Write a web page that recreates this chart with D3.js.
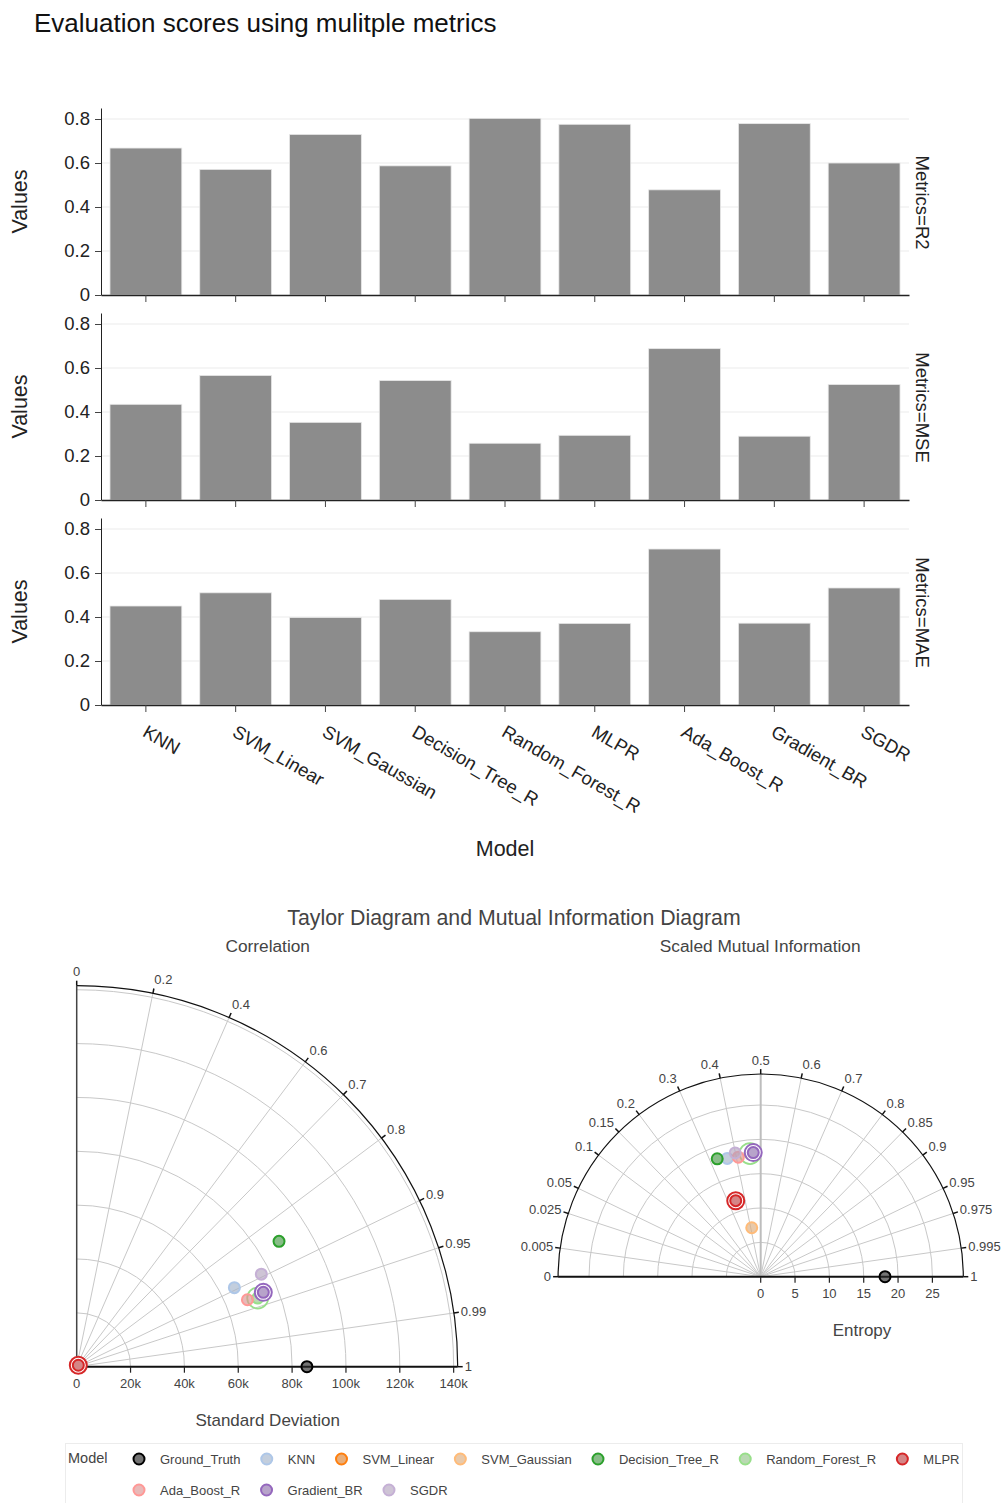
<!DOCTYPE html>
<html>
<head>
<meta charset="utf-8">
<script src="https://cdn.jsdelivr.net/npm/d3@7"></script>
<style>
  body { margin: 0; background: #fff; }
  svg text { font-family: "Liberation Sans", Arial, sans-serif; }
</style>
</head>
<body>
<svg id="chart" width="1002" height="1503"></svg>
<script>
// ---------- data ----------
const models = ["KNN", "SVM_Linear", "SVM_Gaussian", "Decision_Tree_R", "Random_Forest_R",
                "MLPR", "Ada_Boost_R", "Gradient_BR", "SGDR"];
const r2Scores  = [0.668, 0.571, 0.730, 0.587, 0.803, 0.776, 0.478, 0.779, 0.600];
const mseScores = [0.435, 0.566, 0.353, 0.543, 0.258, 0.294, 0.688, 0.290, 0.525];
const maeScores = [0.450, 0.510, 0.398, 0.480, 0.333, 0.371, 0.709, 0.372, 0.532];
const valueTicks = [0, 0.2, 0.4, 0.6, 0.8];
const valueTickLabels = ["0", "0.2", "0.4", "0.6", "0.8"];

// Taylor / mutual-information points (Ground_Truth first)
const diagramModels = ["Ground_Truth", ...models];
const stdDevs      = [85500, 65500, 800, 1000, 88400, 71900, 800, 68100, 74600, 76700];
const correlations = [1, 0.894, 0.75, 0.80, 0.850, 0.935, 0.75, 0.931, 0.929, 0.894];
const entropies    = [18.1, 17.9, 11.65, 7.25, 18.3, 18.0, 11.65, 17.7, 18.1, 18.4];
const scaledMI     = [1, 0.364, 0.344, 0.41, 0.327, 0.457, 0.344, 0.408, 0.47, 0.399];

const corrTicks = [0, 0.2, 0.4, 0.6, 0.7, 0.8, 0.9, 0.95, 0.99, 1];
const corrTickLabels = ["0", "0.2", "0.4", "0.6", "0.7", "0.8", "0.9", "0.95", "0.99", "1"];
const stdTicks = [0, 20000, 40000, 60000, 80000, 100000, 120000, 140000];
const stdTickLabels = ["0", "20k", "40k", "60k", "80k", "100k", "120k", "140k"];
const smiTicks = [0, 0.005, 0.025, 0.05, 0.1, 0.15, 0.2, 0.3, 0.4, 0.5, 0.6, 0.7, 0.8, 0.85, 0.9, 0.95, 0.975, 0.995, 1];
const smiTickLabels = ["0", "0.005", "0.025", "0.05", "0.1", "0.15", "0.2", "0.3", "0.4", "0.5", "0.6", "0.7", "0.8", "0.85", "0.9", "0.95", "0.975", "0.995", "1"];
const entropyTicks = [0, 5, 10, 15, 20, 25];
const entropyTickLabels = ["0", "5", "10", "15", "20", "25"];

// ---------- styles ----------
const modelColors = ["#000000", "#aec7e8", "#ff7f0e", "#ffbb78", "#2ca02c", "#98df8a",
                     "#d62728", "#ff9896", "#9467bd", "#c5b0d5"];
const extraRing = { "Random_Forest_R": 10.5, "Gradient_BR": 8.5, "MLPR": 8.5 };
const barFill = "#8c8c8c";
const gridGray = "#c8c8c8";
const textGray = "#444";
const tickFont = 18.5;

const svg = d3.select("#chart");
const markerFill = c => d3.interpolateRgb(c, "#888888")(0.3);

// ---------- faceted bar chart ----------
svg.append("text").attr("x", 34).attr("y", 32).attr("font-size", 26).attr("fill", "#111")
  .text("Evaluation scores using mulitple metrics");

const facets = [
  { label: "Metrics=R2",  values: r2Scores },
  { label: "Metrics=MSE", values: mseScores },
  { label: "Metrics=MAE", values: maeScores }
];
const plotLeft = 101, plotRight = 909, panelH = 187;
const panelTops = [108, 313, 518];
const x = d3.scaleBand().domain(models).range([plotLeft, plotRight]).paddingInner(0.2).paddingOuter(0.1);

facets.forEach((f, i) => {
  const top = panelTops[i], bottom = top + panelH;
  const y = d3.scaleLinear().domain([0, 0.85]).range([bottom, top]);
  const g = svg.append("g");

  g.selectAll("line.grid").data(valueTicks.slice(1)).join("line")
    .attr("x1", plotLeft).attr("x2", plotRight)
    .attr("y1", d => y(d)).attr("y2", d => y(d))
    .attr("stroke", "#ebebeb").attr("stroke-width", 1);

  g.selectAll("rect").data(models).join("rect")
    .attr("x", d => x(d)).attr("width", x.bandwidth())
    .attr("y", (d, j) => y(f.values[j]))
    .attr("height", (d, j) => bottom - y(f.values[j]))
    .attr("fill", barFill).attr("stroke", "#e8e8e8").attr("stroke-width", 0.8);

  const yAxis = g.append("g").attr("transform", `translate(${plotLeft},0)`)
    .call(d3.axisLeft(y).tickValues(valueTicks).tickFormat((d, k) => valueTickLabels[k])
      .tickSize(6).tickSizeOuter(0).tickPadding(5));
  yAxis.select(".domain").attr("stroke", "#222");
  yAxis.selectAll(".tick line").attr("stroke", "#444");
  yAxis.selectAll("text").attr("font-size", tickFont).attr("fill", "#222").attr("font-family", "Liberation Sans, Arial, sans-serif");

  const xAxis = g.append("g").attr("transform", `translate(0,${bottom})`)
    .call(d3.axisBottom(x).tickSize(7).tickSizeOuter(0).tickFormat(""));
  xAxis.select(".domain").attr("stroke", "#222").attr("stroke-width", 1.5);
  xAxis.selectAll(".tick line").attr("stroke", "#444");

  if (i === facets.length - 1) {
    g.selectAll("text.xlab").data(models).join("text")
      .attr("class", "xlab")
      .attr("transform", d => `translate(${x(d) + x.bandwidth() / 2 - 4.5},${bottom + 30.5}) rotate(30)`)
      .attr("font-size", tickFont).attr("fill", "#222")
      .text(d => d);
  }

  svg.append("text")
    .attr("transform", `translate(19,${(top + bottom) / 2}) rotate(-90)`)
    .attr("text-anchor", "middle").attr("dy", "0.35em")
    .attr("font-size", 21.5).attr("fill", "#222").text("Values");

  svg.append("text")
    .attr("transform", `translate(922,${(top + bottom) / 2 + 1}) rotate(90)`)
    .attr("text-anchor", "middle").attr("dy", "0.35em")
    .attr("font-size", tickFont).attr("fill", "#222").text(f.label);
});

svg.append("text").attr("x", (plotLeft + plotRight) / 2).attr("y", 855.5)
  .attr("text-anchor", "middle").attr("font-size", 21.5).attr("fill", "#222").text("Model");

// ---------- diagrams ----------
svg.append("text").attr("x", 514).attr("y", 924.5).attr("text-anchor", "middle")
  .attr("font-size", 21.3).attr("fill", textGray).text("Taylor Diagram and Mutual Information Diagram");

function angularLabels(g, ox, oy, R, angles, labels) {
  angles.forEach((a, k) => {
    const c = Math.cos(a), s = Math.sin(a);
    const px = ox + R * c, py = oy - R * s;
    g.append("line").attr("x1", px).attr("y1", py)
      .attr("x2", ox + (R + 5) * c).attr("y2", oy - (R + 5) * s)
      .attr("stroke", "#111").attr("stroke-width", 1.5);
    g.append("text")
      .attr("x", px + 7 * c).attr("y", py - 14 * s).attr("dy", "0.35em")
      .attr("text-anchor", Math.abs(c) < 0.1 ? "middle" : (c > 0 ? "start" : "end"))
      .attr("font-size", 13).attr("fill", textGray).text(labels[k]);
  });
}

function drawMarker(g, cx, cy, name, color) {
  if (extraRing[name]) {
    g.append("circle").attr("cx", cx).attr("cy", cy).attr("r", extraRing[name])
      .attr("fill", name === "Random_Forest_R" ? "none" : "#fff")
      .attr("stroke", color).attr("stroke-width", name === "Random_Forest_R" ? 1.8 : 2);
  }
  g.append("circle").attr("cx", cx).attr("cy", cy).attr("r", 5.5)
    .attr("fill", markerFill(color)).attr("fill-opacity", 0.65)
    .attr("stroke", color).attr("stroke-width", 2);
}

// Taylor diagram
{
  const ox = 76.7, oy = 1366.7;
  const rScale = d3.scaleLinear().domain([0, 141500]).range([0, 381]);
  const R = rScale(141500);
  const g = svg.append("g");

  g.append("text").attr("x", ox + R / 2 + 0.5).attr("y", 952).attr("text-anchor", "middle")
    .attr("font-size", 17.3).attr("fill", textGray).text("Correlation");

  stdTicks.slice(1).forEach(t => {
    const p = d3.path();
    p.moveTo(ox + rScale(t), oy);
    p.arc(ox, oy, rScale(t), 0, -Math.PI / 2, true);
    g.append("path").attr("d", p.toString()).attr("fill", "none").attr("stroke", gridGray).attr("stroke-width", 1);
  });
  corrTicks.filter(c => c > 0 && c < 1).forEach(c => {
    const a = Math.acos(c);
    g.append("line").attr("x1", ox).attr("y1", oy)
      .attr("x2", ox + R * Math.cos(a)).attr("y2", oy - R * Math.sin(a))
      .attr("stroke", gridGray).attr("stroke-width", 1);
  });
  const b = d3.path();
  b.moveTo(ox + R, oy);
  b.arc(ox, oy, R, 0, -Math.PI / 2, true);
  g.append("path").attr("d", b.toString()).attr("fill", "none").attr("stroke", "#111").attr("stroke-width", 1.2);
  g.append("line").attr("x1", ox).attr("y1", oy).attr("x2", ox).attr("y2", oy - R)
    .attr("stroke", "#444").attr("stroke-width", 1.5);
  g.append("line").attr("x1", ox).attr("y1", oy).attr("x2", ox + R).attr("y2", oy)
    .attr("stroke", "#111").attr("stroke-width", 2);

  angularLabels(g, ox, oy, R, corrTicks.map(c => Math.acos(c)), corrTickLabels);

  stdTicks.forEach((t, k) => {
    g.append("line").attr("x1", ox + rScale(t)).attr("x2", ox + rScale(t))
      .attr("y1", oy).attr("y2", oy + 6).attr("stroke", "#222").attr("stroke-width", 1.2);
    g.append("text").attr("x", ox + rScale(t)).attr("y", oy + 17).attr("dy", "0.35em")
      .attr("text-anchor", "middle").attr("font-size", 13).attr("fill", textGray).text(stdTickLabels[k]);
  });
  g.append("text").attr("x", ox + R / 2 + 0.5).attr("y", 1426).attr("text-anchor", "middle")
    .attr("font-size", 17).attr("fill", textGray).text("Standard Deviation");

  diagramModels.forEach((m, k) => {
    const a = Math.acos(correlations[k]);
    const r = rScale(stdDevs[k]);
    drawMarker(g, ox + r * Math.cos(a), oy - r * Math.sin(a), m, modelColors[k]);
  });
}

// Mutual information diagram
{
  const ox = 760.7, oy = 1276.7;
  const rScale = d3.scaleLinear().domain([0, 29.5]).range([0, 202.6]);
  const R = rScale(29.5);
  const g = svg.append("g");
  const ang = s => Math.acos(2 * s - 1);

  g.append("text").attr("x", ox - 0.5).attr("y", 952).attr("text-anchor", "middle")
    .attr("font-size", 17.3).attr("fill", textGray).text("Scaled Mutual Information");

  entropyTicks.slice(1).forEach(t => {
    const p = d3.path();
    p.moveTo(ox + rScale(t), oy);
    p.arc(ox, oy, rScale(t), 0, -Math.PI, true);
    g.append("path").attr("d", p.toString()).attr("fill", "none").attr("stroke", gridGray).attr("stroke-width", 1);
  });
  smiTicks.filter(s => s > 0 && s < 1).forEach(s => {
    const a = ang(s);
    g.append("line").attr("x1", ox).attr("y1", oy)
      .attr("x2", ox + R * Math.cos(a)).attr("y2", oy - R * Math.sin(a))
      .attr("stroke", s === 0.5 ? "#bdbdbd" : gridGray).attr("stroke-width", s === 0.5 ? 2 : 1);
  });
  const b = d3.path();
  b.moveTo(ox + R, oy);
  b.arc(ox, oy, R, 0, -Math.PI, true);
  g.append("path").attr("d", b.toString()).attr("fill", "none").attr("stroke", "#111").attr("stroke-width", 1.2);
  g.append("line").attr("x1", ox - R).attr("y1", oy).attr("x2", ox + R).attr("y2", oy)
    .attr("stroke", "#111").attr("stroke-width", 2);

  angularLabels(g, ox, oy, R, smiTicks.map(ang), smiTickLabels);

  entropyTicks.forEach((t, k) => {
    g.append("line").attr("x1", ox + rScale(t)).attr("x2", ox + rScale(t))
      .attr("y1", oy).attr("y2", oy + 6).attr("stroke", "#222").attr("stroke-width", 1.2);
    g.append("text").attr("x", ox + rScale(t)).attr("y", oy + 17).attr("dy", "0.35em")
      .attr("text-anchor", "middle").attr("font-size", 13).attr("fill", textGray).text(entropyTickLabels[k]);
  });
  g.append("text").attr("x", ox + R / 2).attr("y", 1336).attr("text-anchor", "middle")
    .attr("font-size", 17).attr("fill", textGray).text("Entropy");

  diagramModels.forEach((m, k) => {
    const a = ang(scaledMI[k]);
    const r = rScale(entropies[k]);
    drawMarker(g, ox + r * Math.cos(a), oy - r * Math.sin(a), m, modelColors[k]);
  });
}

// ---------- legend ----------
{
  const g = svg.append("g");
  g.append("rect").attr("x", 65.5).attr("y", 1443.5).attr("width", 897).attr("height", 80)
    .attr("fill", "none").attr("stroke", "#ececec").attr("stroke-width", 1);
  g.append("text").attr("x", 68).attr("y", 1458).attr("dy", "0.35em")
    .attr("font-size", 14.5).attr("fill", textGray).text("Model");
  let cx = 139, cy = 1459;
  diagramModels.forEach((m, k) => {
    const t = g.append("text").attr("font-size", 13).attr("fill", textGray).attr("dy", "0.35em").text(m);
    const w = t.node().getComputedTextLength();
    if (cx + 21 + w > 975) { cx = 139; cy += 31; }
    t.attr("x", cx + 21).attr("y", cy);
    g.append("circle").attr("cx", cx).attr("cy", cy).attr("r", 5.5)
      .attr("fill", markerFill(modelColors[k])).attr("fill-opacity", 0.65)
      .attr("stroke", modelColors[k]).attr("stroke-width", 2);
    cx += 21 + w + 26.3;
  });
}
</script>
</body>
</html>
